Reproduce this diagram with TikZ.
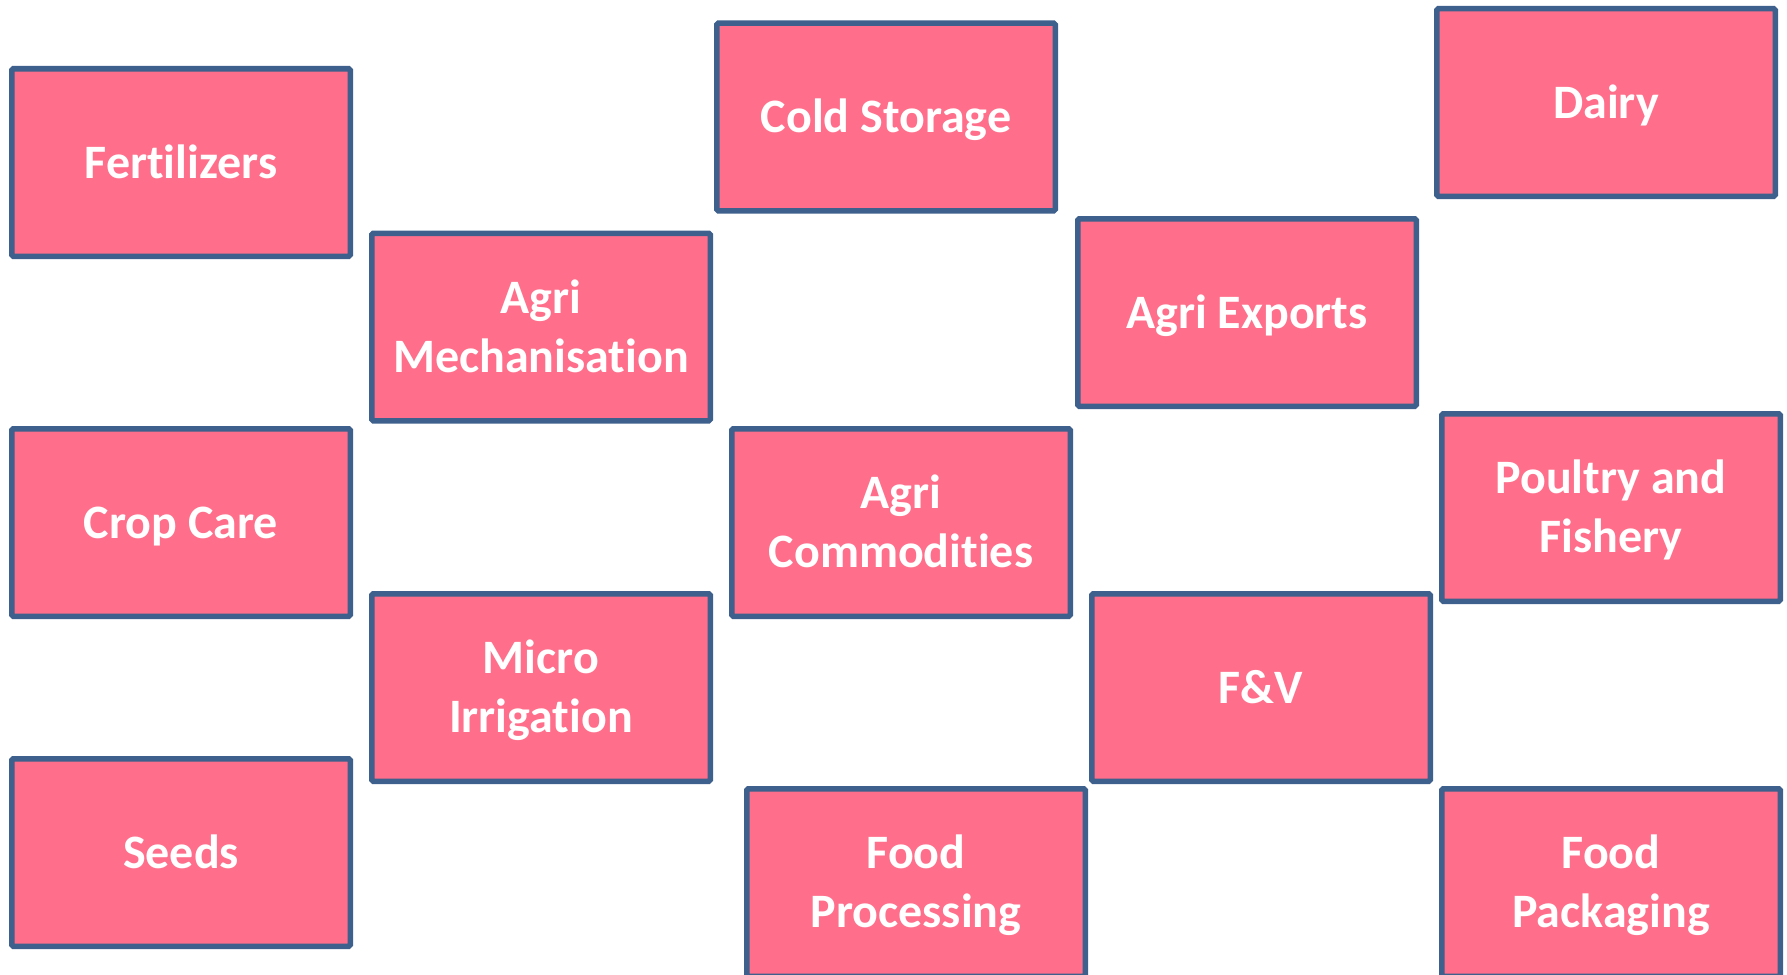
\documentclass[tikz,border=0pt]{standalone}
\usepackage{fontspec}
\setmainfont{Carlito}[Ligatures={NoCommon}]
\definecolor{boxfill}{RGB}{255,111,139}
\definecolor{boxline}{RGB}{61,96,140}
\newcommand\lnstrut{\rule[-14pt]{0pt}{59pt}}
\tikzset{
  sector/.style={draw=boxline, fill=boxfill, line width=5.5pt, rounded corners=1.5pt,
    minimum width=338.5pt, minimum height=187.5pt, inner sep=0pt,
    text=white, align=center, font=\fontsize{48}{59}\selectfont\bfseries}
}
\begin{document}
\begin{tikzpicture}[x=1pt,y=-1pt]
\useasboundingbox (0,0) rectangle (1787,974);
\clip (0,0) rectangle (1787,974);
\node[sector] (fert) at (181,162.5) {\lnstrut Fertilizers};
\node[sector] (mech) at (541,327) {\lnstrut Agri\\\lnstrut Mechanisation};
\node[sector] (cold) at (886,117) {\lnstrut Cold Storage};
\node[sector] (exports) at (1247,312.5) {\lnstrut Agri Exports};
\node[sector] (dairy) at (1606,102.5) {\lnstrut Dairy};
\node[sector] (crop) at (181,522.5) {\lnstrut Crop Care};
\node[sector] (comm) at (901,522.5) {\lnstrut Agri\\\lnstrut Commodities};
\node[sector] (poultry) at (1611,507.5) {\lnstrut Poultry and\\\lnstrut Fishery};
\node[sector] (micro) at (541,687.5) {\lnstrut Micro\\\lnstrut Irrigation};
\node[sector] (fv) at (1261,687.5) {\lnstrut F\&V};
\node[sector] (seeds) at (181,852.5) {\lnstrut Seeds};
\node[sector] (foodproc) at (916,882.5) {\lnstrut Food\\\lnstrut Processing};
\node[sector] (foodpack) at (1611,882.5) {\lnstrut Food\\\lnstrut Packaging};
\end{tikzpicture}
\end{document}
